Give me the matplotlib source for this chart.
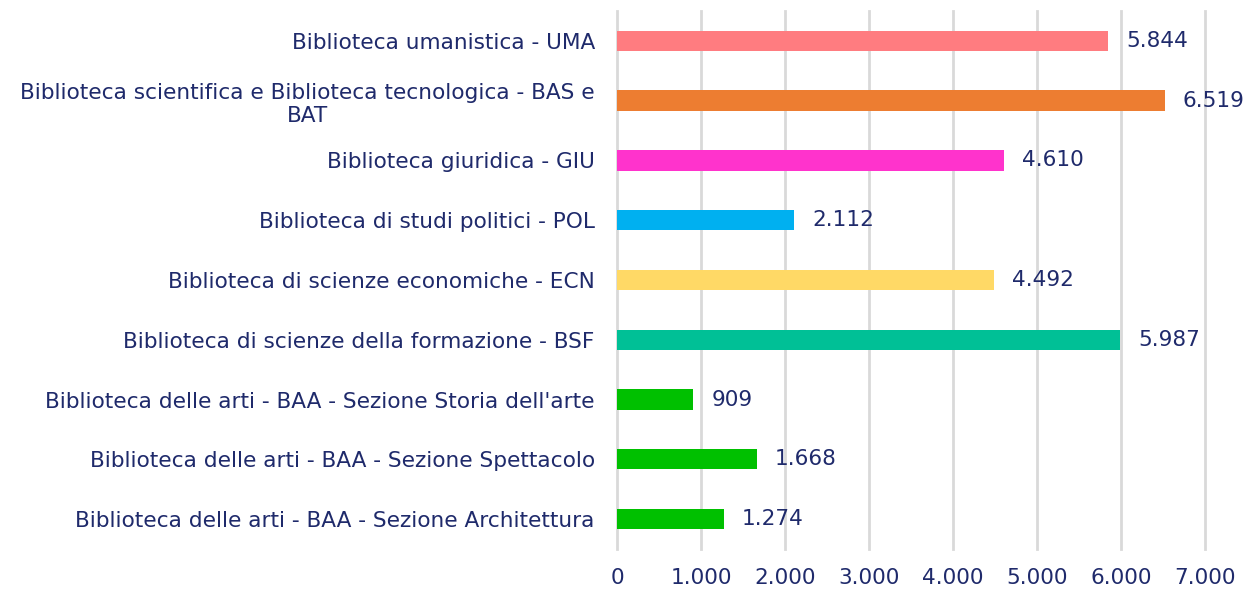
import matplotlib
matplotlib.use("Agg")
import matplotlib.pyplot as plt

categories = [
    "Biblioteca umanistica - UMA",
    "Biblioteca scientifica e Biblioteca tecnologica - BAS e\nBAT",
    "Biblioteca giuridica - GIU",
    "Biblioteca di studi politici - POL",
    "Biblioteca di scienze economiche - ECN",
    "Biblioteca di scienze della formazione - BSF",
    "Biblioteca delle arti - BAA - Sezione Storia dell'arte",
    "Biblioteca delle arti - BAA - Sezione Spettacolo",
    "Biblioteca delle arti - BAA - Sezione Architettura",
]
values = [5844, 6519, 4610, 2112, 4492, 5987, 909, 1668, 1274]
colors = ["#FF7C80", "#ED7D31", "#FF33CC", "#00B0F0", "#FFD966",
          "#00C096", "#00C000", "#00C000", "#00C000"]
xticks = [0, 1000, 2000, 3000, 4000, 5000, 6000, 7000]

TXT = "#1F2A6B"
FS = 15.6

def fmt(v):
    return f"{v:,}".replace(",", ".")

fig = plt.figure(figsize=(12.47, 5.90), dpi=100)
ax = fig.add_axes([0.4948, 0.0695, 0.4715, 0.9119])

pos = list(range(len(categories)))
ax.barh(pos, values, height=0.34, color=colors, zorder=2)
for p, v in zip(pos, values):
    ax.annotate(fmt(v), (v, p), xytext=(13, 0), textcoords="offset points",
                va="center", ha="left", fontsize=FS, color=TXT, zorder=3)

ax.set_ylim(len(categories) - 0.5, -0.5)
ax.set_xlim(0, 7000)
ax.set_yticks(pos)
ax.set_yticklabels(categories, fontsize=FS, color=TXT, multialignment="center")
ax.set_xticks(xticks)
ax.set_xticklabels([fmt(t) for t in xticks], fontsize=FS, color=TXT)
ax.tick_params(axis="both", length=0)
ax.tick_params(axis="y", pad=16)
ax.tick_params(axis="x", pad=14)
ax.grid(axis="x", color="#D9D9D9", linewidth=2, zorder=0)
for gl in ax.get_xgridlines():
    gl.set_clip_on(False)
for s in ax.spines.values():
    s.set_visible(False)

fig.savefig("out.png", dpi=100)
